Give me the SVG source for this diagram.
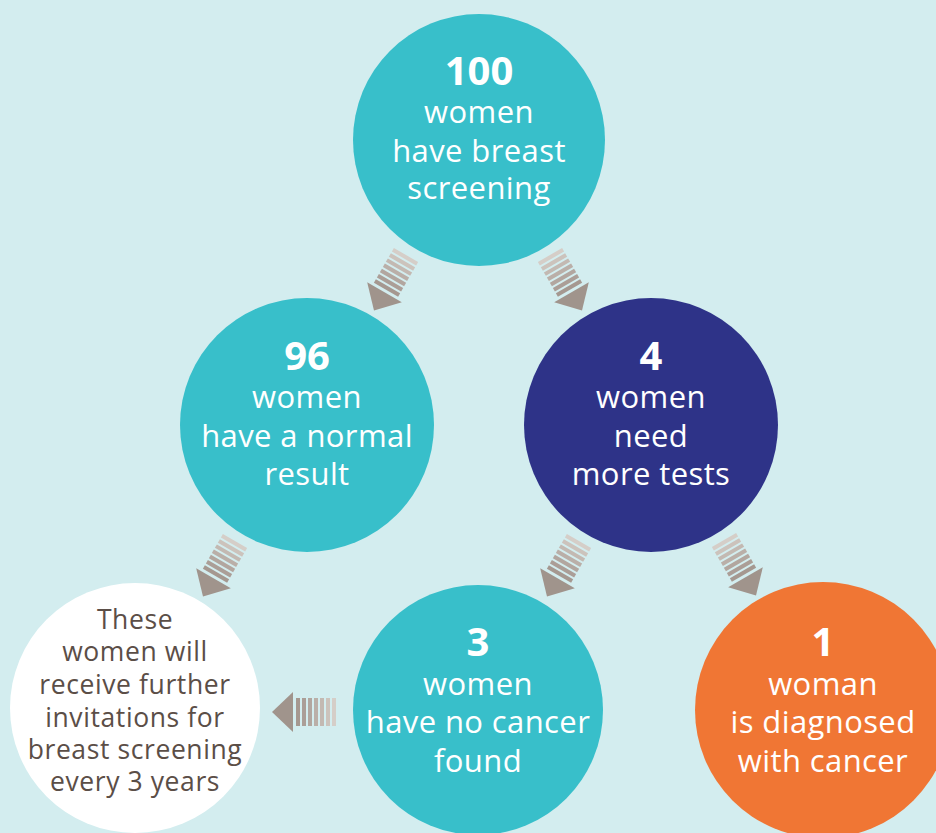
<svg xmlns="http://www.w3.org/2000/svg" width="936" height="833" viewBox="0 0 936 833">
<style>
.t{font-family:"Open Sans","Liberation Sans",sans-serif;font-size:31px;font-weight:500;letter-spacing:0.4px;fill:#fff;text-anchor:middle}
.n{font-family:"Open Sans","Liberation Sans",sans-serif;font-size:40px;font-weight:bold;fill:#fff;text-anchor:middle}
.w{font-family:"Open Sans","Liberation Sans",sans-serif;font-size:26.5px;font-weight:500;letter-spacing:0.6px;fill:#5B4E47;text-anchor:middle}
.teal{fill:#38BFCA}
</style>
<defs>
<g id="arr">
<rect x="-14" y="0" width="28" height="4" fill="#D5CEC8"/>
<rect x="-14" y="6" width="28" height="4" fill="#CCC3BC"/>
<rect x="-14" y="12" width="28" height="4" fill="#C3B9B2"/>
<rect x="-14" y="18" width="28" height="4" fill="#BAAFA8"/>
<rect x="-14" y="24" width="28" height="4" fill="#B2A69F"/>
<rect x="-14" y="30" width="28" height="4" fill="#AB9E97"/>
<rect x="-14" y="36" width="28" height="4" fill="#A59890"/>
<polygon points="-20,43 20,43 0,64" fill="#A0948C"/>
</g>
</defs>
<rect width="936" height="833" fill="#D3EDEF"/>
<g id="n100">
<circle class="teal" cx="479" cy="140" r="126"/>
<text class="n" x="479" y="85">100</text>
<text class="t" x="479" y="123">women</text>
<text class="t" x="479" y="162">have breast</text>
<text class="t" x="479" y="199">screening</text>
</g>
<g id="n96">
<circle class="teal" cx="307" cy="425" r="127"/>
<text class="n" x="307" y="370">96</text>
<text class="t" x="307" y="408">women</text>
<text class="t" x="307" y="447">have a normal</text>
<text class="t" x="307" y="485">result</text>
</g>
<g id="n4">
<circle fill="#2E3388" cx="651" cy="425" r="127"/>
<text class="n" x="651" y="370">4</text>
<text class="t" x="651" y="408">women</text>
<text class="t" x="651" y="447">need</text>
<text class="t" x="651" y="485">more tests</text>
</g>
<g id="n3">
<circle class="teal" cx="478" cy="710" r="125"/>
<text class="n" x="478" y="656">3</text>
<text class="t" x="478" y="695">women</text>
<text class="t" x="478" y="733">have no cancer</text>
<text class="t" x="478" y="772">found</text>
</g>
<g id="n1">
<circle fill="#F07634" cx="823" cy="710" r="128"/>
<text class="n" x="823" y="656">1</text>
<text class="t" x="823" y="695">woman</text>
<text class="t" x="823" y="733">is diagnosed</text>
<text class="t" x="823" y="772">with cancer</text>
</g>
<g id="nwhite">
<circle fill="#FFFFFF" cx="135" cy="708" r="125"/>
<text class="w" x="135" y="629">These</text>
<text class="w" x="135" y="661">women will</text>
<text class="w" x="135" y="694">receive further</text>
<text class="w" x="135" y="727">invitations for</text>
<text class="w" x="135" y="759">breast screening</text>
<text class="w" x="135" y="791">every 3 years</text>
</g>
<g id="connectors">
<use href="#arr" transform="translate(406,255) rotate(30)"/>
<use href="#arr" transform="translate(550,255) rotate(-30)"/>
<use href="#arr" transform="translate(235,541) rotate(30)"/>
<use href="#arr" transform="translate(579,541) rotate(30)"/>
<use href="#arr" transform="translate(724,540) rotate(-30)"/>
<use href="#arr" transform="translate(336,712) rotate(90)"/>
</g>
</svg>
